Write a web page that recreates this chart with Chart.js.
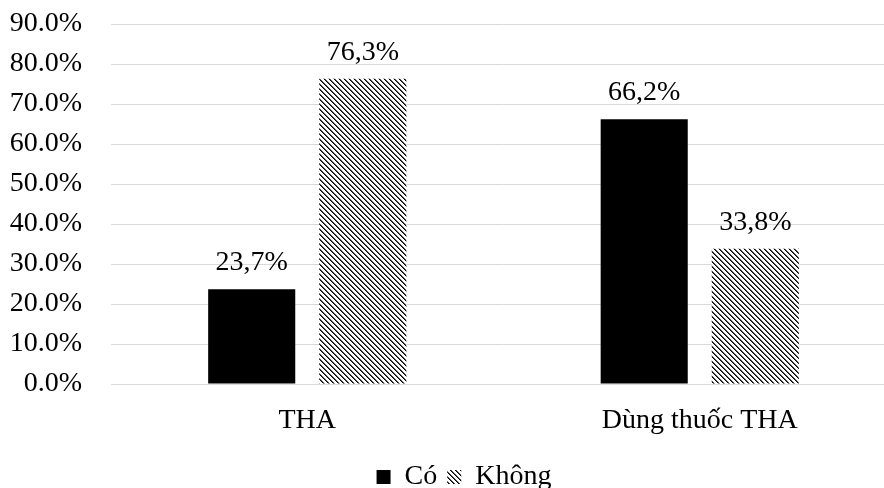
<!DOCTYPE html>
<html>
<head>
<meta charset="utf-8">
<script src="https://cdn.jsdelivr.net/npm/chart.js@4"></script>
<style>
  html, body { margin: 0; padding: 0; background: #fff; overflow: hidden; }
  #wrap { width: 896px; height: 488px; }
</style>
</head>
<body>
<div id="wrap"><canvas id="chart"></canvas></div>
<script>
const categories = ["THA", "Dùng thuốc THA"];
const coValues = [23.7, 66.2];
const khongValues = [76.3, 33.8];
const seriesNames = ["Có", "Không"];
const yTicks = [0, 10, 20, 30, 40, 50, 60, 70, 80, 90];

const FONT = "'Liberation Serif', 'Times New Roman', serif";

// hatch pattern like Excel's wide downward diagonal
const makeHatch = () => {
  const c = document.createElement("canvas");
  c.width = 5;
  c.height = 5;
  const g = c.getContext("2d");
  g.fillStyle = "#fff";
  g.fillRect(0, 0, 5, 5);
  for (let i = 0; i < 5; i++) {
    g.fillStyle = "#000";
    g.fillRect(i, i, 1, 1);
    g.fillStyle = "#555";
    g.fillRect((i + 1) % 5, i, 1, 1);
  }
  return g.createPattern(c, "repeat");
};
const hatch = makeHatch();

const valueLabels = {
  id: "valueLabels",
  afterDatasetsDraw(chart) {
    const ctx = chart.ctx;
    ctx.save();
    ctx.font = "28px " + FONT;
    ctx.fillStyle = "#000";
    ctx.textAlign = "center";
    ctx.textBaseline = "alphabetic";
    chart.data.datasets.forEach((ds, i) => {
      chart.getDatasetMeta(i).data.forEach((bar, j) => {
        const txt = ds.data[j].toFixed(1).replace(".", ",") + "%";
        ctx.fillText(txt, bar.x, bar.y - 19);
      });
    });
    ctx.restore();
  },
};

// legend in the reference sits a bit right of the canvas centre
const legendShift = {
  id: "legendShift",
  afterLayout(chart) {
    chart.legend.left += 32;
  },
};

const context = document.getElementById("chart").getContext("2d");
const chart = new Chart(context, {
  type: "bar",
  data: {
    labels: categories,
    datasets: [
      {
        label: seriesNames[0],
        data: coValues,
        backgroundColor: "#000",
        borderWidth: 0,
      },
      {
        label: seriesNames[1],
        data: khongValues,
        backgroundColor: hatch,
        borderWidth: 0,
      },
    ],
  },
  options: {
    responsive: true,
    maintainAspectRatio: false,
    animation: false,
    datasets: {
      bar: { categoryPercentage: 0.566, barPercentage: 0.784 },
    },
    layout: { padding: { top: 0, right: 0, left: 0, bottom: -13 } },
    scales: {
      x: {
        grid: { display: false, drawTicks: false },
        border: { color: "#d9d9d9", width: 1 },
        ticks: { color: "#000", font: { family: FONT, size: 28 }, padding: 20 },
        afterFit: (s) => {
          s.height = 69;
        },
      },
      y: {
        min: 0,
        max: 90,
        afterBuildTicks: (s) => {
          s.ticks = yTicks.map((v) => ({ value: v }));
        },
        afterFit: (s) => {
          s.width = 111;
          s.paddingTop = 24;
          s.paddingBottom = 0;
        },
        grid: { color: "#d9d9d9", drawTicks: false },
        border: { display: false },
        ticks: {
          color: "#000",
          font: { family: FONT, size: 28 },
          padding: 29,
          callback: (v) => v.toFixed(1) + "%",
        },
      },
    },
    plugins: {
      legend: {
        position: "bottom",
        labels: {
          color: "#000",
          font: { family: FONT, size: 28 },
          boxWidth: 14,
          boxHeight: 14,
          padding: 10,
        },
      },
      tooltip: { enabled: false },
    },
  },
  plugins: [valueLabels, legendShift],
});
</script>
</body>
</html>
